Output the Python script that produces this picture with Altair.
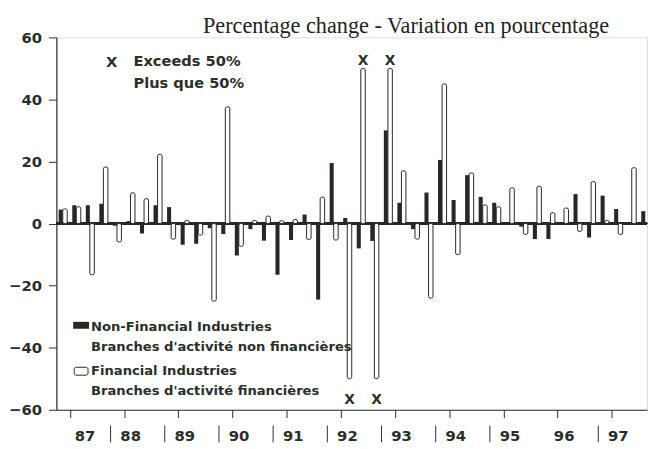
import altair as alt
import pandas as pd

# ---- data (quarterly % change, 1987Q1 - 1997Q4) ----
years = list(range(1987, 1998))
quarters = [1, 2, 3, 4]

non_financial = [
    4.5, 5.9, 5.9, 6.4,        # 1987
    -0.7, 0.8, -3.2, 5.9,      # 1988
    5.3, -6.8, -6.5, -1.5,     # 1989
    -3.4, -10.3, -1.8, -5.5,   # 1990
    -16.5, -5.3, 2.9, -24.5,   # 1991
    19.5, 1.8, -8.0, -5.6,     # 1992
    30.0, 6.7, -1.8, 10.0,     # 1993
    20.5, 7.6, 15.6, 8.6,      # 1994
    6.7, 0.3, -1.0, -5.0,      # 1995
    -5.0, 0.3, 9.5, -4.5,      # 1996
    9.0, 4.7, 0.5, 4.0,        # 1997
]

financial = [
    4.7, 5.4, -16.5, 18.2,     # 1987
    -5.9, 9.9, 8.0, 22.3,      # 1988
    -5.0, 1.0, -3.7, -25.0,    # 1989
    37.6, -7.3, 1.0, 2.4,      # 1990
    0.9, 1.3, -5.1, 8.5,       # 1991
    -5.3, -50.0, 50.0, -50.0,  # 1992 (capped, exceed 50%)
    50.0, 17.0, -5.0, -24.0,   # 1993
    45.0, -10.0, 16.3, 6.0,    # 1994
    5.4, 11.5, -3.5, 12.0,     # 1995
    3.5, 5.0, -2.5, 13.5,      # 1996
    1.0, -3.5, 18.0, None,     # 1997
]

# quarters whose financial-industry change exceeds 50% (drawn capped)
exceeds = ["1992Q2", "1992Q3", "1992Q4", "1993Q1"]

year_labels = ["87", "88", "89", "90", "91", "92", "93", "94", "95", "96", "97"]
separator_years = [1988, 1989, 1990, 1991, 1992, 1993, 1994, 1995, 1997]
y_ticks = [-60, -40, -20, 0, 20, 40, 60]

title_text = "Percentage change - Variation en pourcentage"
legend_x_lines = ["Exceeds 50%", "Plus que 50%"]
legend_lines = [
    "Non-Financial Industries",
    "Branches d'activité non financières",
    "Financial Industries",
    "Branches d'activité financières",
]

# ---- build table ----
rows = []
i = 0
for yr in years:
    for q in quarters:
        t = yr + (q - 1) / 4
        key = f"{yr}Q{q}"
        rows.append(dict(key=key, series="nf", value=non_financial[i],
                         x0=t + 0.25 * 0.17, x1=t + 0.25 * 0.47))
        if financial[i] is not None:
            rows.append(dict(key=key, series="f", value=financial[i],
                             x0=t + 0.25 * 0.47, x1=t + 0.25 * 0.80))
        i += 1
df = pd.DataFrame(rows)
df_nf = df[df.series == "nf"]
df_f = df[df.series == "f"]
df_x = df_f[df_f.key.isin(exceeds)].copy()
df_x["xm"] = (df_x.x0 + df_x.x1) / 2
df_x["ym"] = df_x.value.apply(lambda v: 52.5 if v > 0 else -57.0)

W, H = 598, 377
DARK = "#232a23"
INK = "#2a2f2a"

xscale = alt.Scale(domain=[1987, 1997.9], nice=False, zero=False)
yscale = alt.Scale(domain=[-60, 60], nice=False)

quarter_ticks = [1987 + k / 4 for k in range(1, 44)]

bars_nf = alt.Chart(df_nf).mark_bar(color=DARK).encode(
    x=alt.X("x0:Q", scale=xscale,
            axis=alt.Axis(values=quarter_ticks, labels=False, title=None, grid=False,
                          tickSize=8, tickColor=INK, domainColor=INK, domainWidth=1.2,
                          tickWidth=1)),
    x2="x1:Q",
    y=alt.Y("value:Q", scale=yscale,
            axis=alt.Axis(values=y_ticks, title=None, grid=False, tickSize=8,
                          tickColor=INK, domainColor=INK, domainWidth=1.2,
                          labelFont="DejaVu Sans", labelFontWeight="bold",
                          labelFontSize=15, labelColor=INK, labelPadding=7)),
    y2=alt.datum(0),
)

bars_f = alt.Chart(df_f).mark_bar(fill="white", stroke=DARK, strokeWidth=1,
                                  cornerRadius=1.5).encode(
    x=alt.X("x0:Q", scale=xscale), x2="x1:Q",
    y=alt.Y("value:Q", scale=yscale), y2=alt.datum(0),
)

zero_line = alt.Chart(df_nf).mark_rule(color=DARK, strokeWidth=1.8).encode(
    x=alt.value(0), x2=alt.value(W), y=alt.datum(0)
)

x_marks = alt.Chart(df_x).mark_text(text="X", font="DejaVu Sans", fontWeight="bold",
                                    fontSize=14, color=INK).encode(
    x=alt.X("xm:Q", scale=xscale), y=alt.Y("ym:Q", scale=yscale)
)

# year labels and separators
df_years = pd.DataFrame({
    "year": years,
    "label": year_labels,
    "lx": [y + (0.53 if k == 0 else 0.37) for k, y in enumerate(years)],
})
year_text = alt.Chart(df_years).mark_text(font="DejaVu Sans", fontWeight="bold",
                                          fontSize=15, color=INK, baseline="middle").encode(
    x=alt.X("lx:Q", scale=xscale), y=alt.value(404), text="label:N"
)
df_sep = pd.DataFrame({"year": separator_years})
seps = alt.Chart(df_sep).mark_rule(color=INK, strokeWidth=1).encode(
    x=alt.X("year:Q", scale=xscale), y=alt.value(393), y2=alt.value(410)
)

# title
title = alt.Chart(df_years.head(1)).mark_text(
    text=title_text, font="Liberation Serif", fontSize=22.5, color="#222",
    align="center", baseline="alphabetic").encode(x=alt.value(354), y=alt.value(-4))

# "X exceeds" legend
leg_top = alt.Chart(pd.DataFrame({"t": legend_x_lines, "py": [25, 47]})).mark_text(
    font="DejaVu Sans", fontWeight="bold", fontSize=14.8, color=INK, align="left",
    baseline="middle").encode(x=alt.value(78), y=alt.Y("py:Q", scale=None), text="t:N")
leg_top_x = alt.Chart(df_years.head(1)).mark_text(
    text="X", font="DejaVu Sans", fontWeight="bold", fontSize=15, color=INK,
    align="center", baseline="middle").encode(x=alt.value(56), y=alt.value(25))

# series legend
leg_text = alt.Chart(pd.DataFrame({"t": legend_lines, "py": [293, 314, 338, 358]})).mark_text(
    font="DejaVu Sans", fontWeight="bold", fontSize=13.3, color=INK, align="left",
    baseline="middle").encode(x=alt.value(35), y=alt.Y("py:Q", scale=None), text="t:N")
sw_dark = alt.Chart(df_years.head(1)).mark_rect(color=DARK).encode(
    x=alt.value(17), x2=alt.value(33), y=alt.value(288), y2=alt.value(295))
sw_white = alt.Chart(df_years.head(1)).mark_rect(fill="white", stroke=DARK, strokeWidth=1,
                                                 cornerRadius=2).encode(
    x=alt.value(18), x2=alt.value(32), y=alt.value(334), y2=alt.value(342))

chart = alt.layer(
    zero_line, bars_nf, bars_f, x_marks, seps, year_text, title,
    leg_top, leg_top_x, leg_text, sw_dark, sw_white,
).properties(
    width=W, height=H,
    autosize=alt.AutoSizeParams(type="none"),
    padding={"left": 49, "top": 27, "right": 4, "bottom": 37},
).configure_view(stroke=None).configure(background="white")

chart.save("out.html", embed_options={"renderer": "svg", "actions": False})
